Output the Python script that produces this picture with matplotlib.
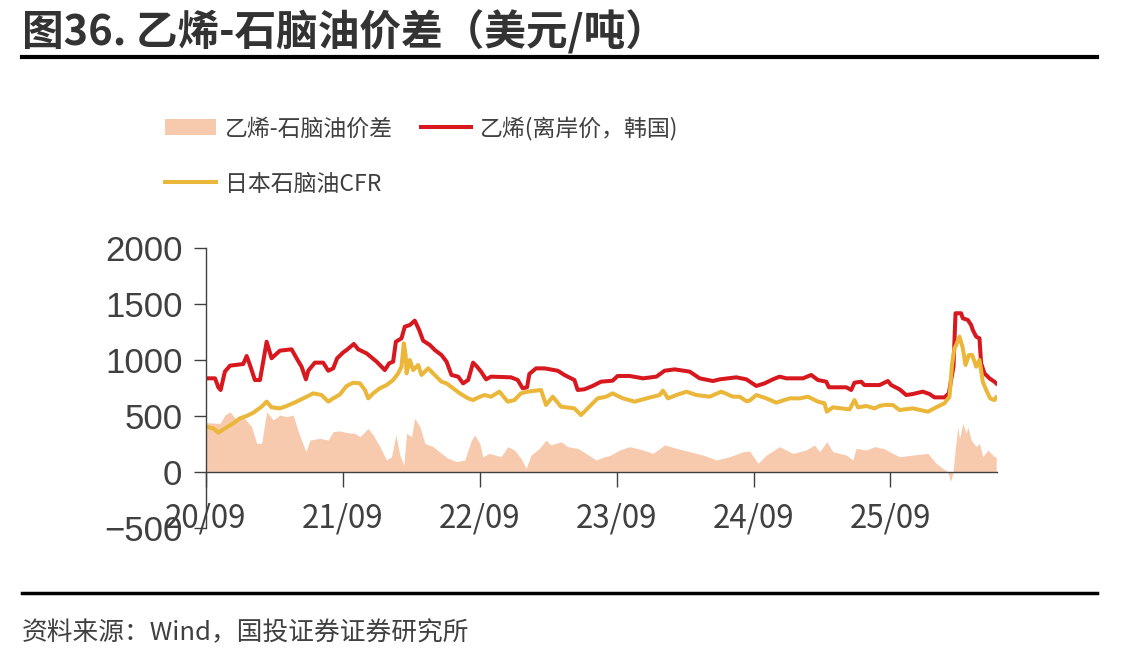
import numpy as np
import matplotlib.pyplot as plt
from matplotlib.lines import Line2D

plt.rcParams['font.family'] = ['Noto Sans CJK SC', 'DejaVu Sans']

# ------------------------------------------------------------
# Data (time in decimal years)
# ------------------------------------------------------------

ethylene_t = [
    2020.667, 2020.733, 2020.757, 2020.774, 2020.805, 2020.842, 2020.939, 2020.964, 2020.988,
    2021.024, 2021.061, 2021.085, 2021.110, 2021.146, 2021.207, 2021.292, 2021.329, 2021.365,
    2021.397, 2021.414, 2021.462, 2021.523, 2021.560, 2021.596, 2021.625, 2021.669, 2021.694,
    2021.747, 2021.779, 2021.840, 2021.913, 2021.973, 2022.005, 2022.034, 2022.054, 2022.095,
    2022.119, 2022.156, 2022.192, 2022.224, 2022.253, 2022.302, 2022.338, 2022.387, 2022.424,
    2022.460, 2022.509, 2022.545, 2022.582, 2022.618, 2022.647, 2022.676, 2022.713, 2022.749,
    2022.895, 2022.944, 2022.980, 2023.012, 2023.029, 2023.078, 2023.139, 2023.236, 2023.285,
    2023.358, 2023.382, 2023.431, 2023.491, 2023.552, 2023.637, 2023.674, 2023.762, 2023.859,
    2023.957, 2024.017, 2024.090, 2024.200, 2024.273, 2024.370, 2024.419, 2024.541, 2024.614,
    2024.687, 2024.747, 2024.808, 2024.857, 2024.906, 2025.027, 2025.088, 2025.137, 2025.198,
    2025.217, 2025.344, 2025.380, 2025.404, 2025.453, 2025.477, 2025.587, 2025.648, 2025.672,
    2025.733, 2025.782, 2025.830, 2025.903, 2025.952, 2025.988, 2026.061, 2026.093, 2026.127,
    2026.142, 2026.183, 2026.195, 2026.232, 2026.256, 2026.268, 2026.293, 2026.317, 2026.329,
    2026.353, 2026.390, 2026.426, 2026.439,
]
ethylene = [
    839, 839, 759, 735, 899, 952, 967, 1038, 958,
    824, 824, 988, 1166, 1018, 1086, 1098, 1018, 943,
    830, 907, 979, 979, 907, 928, 1018, 1070, 1092,
    1146, 1098, 1062, 988, 913, 973, 988, 1166, 1196,
    1300, 1315, 1354, 1271, 1175, 1137, 1092, 1047, 988,
    869, 854, 794, 824, 979, 943, 899, 830, 854,
    848, 824, 750, 759, 878, 928, 928, 907, 869,
    824, 735, 741, 771, 809, 818, 860, 860, 839,
    854, 907, 919, 899, 839, 815, 830, 848, 830,
    771, 794, 830, 854, 839, 839, 869, 824, 809,
    759, 759, 735, 800, 809, 779, 779, 815, 779,
    741, 690, 699, 720, 699, 669, 669, 705, 943,
    1420, 1420, 1375, 1360, 1315, 1271, 1211, 1196, 973,
    884, 839, 809, 794,
]

naphtha_t = [
    2020.667, 2020.720, 2020.757, 2020.805, 2020.866, 2020.915, 2020.964, 2021.012, 2021.073,
    2021.110, 2021.146, 2021.207, 2021.256, 2021.329, 2021.402, 2021.450, 2021.511, 2021.560,
    2021.596, 2021.645, 2021.694, 2021.742, 2021.791, 2021.828, 2021.852, 2021.888, 2021.937,
    2021.986, 2022.034, 2022.071, 2022.095, 2022.112, 2022.125, 2022.132, 2022.156, 2022.180,
    2022.217, 2022.241, 2022.290, 2022.338, 2022.387, 2022.424, 2022.472, 2022.521, 2022.582,
    2022.618, 2022.655, 2022.701, 2022.749, 2022.810, 2022.871, 2022.920, 2022.968, 2023.017,
    2023.114, 2023.151, 2023.200, 2023.260, 2023.358, 2023.406, 2023.467, 2023.528, 2023.589,
    2023.637, 2023.686, 2023.713, 2023.798, 2023.884, 2023.981, 2024.005, 2024.042, 2024.103,
    2024.176, 2024.249, 2024.346, 2024.431, 2024.516, 2024.565, 2024.614, 2024.638, 2024.687,
    2024.760, 2024.833, 2024.930, 2025.003, 2025.064, 2025.137, 2025.185, 2025.202, 2025.246,
    2025.368, 2025.404, 2025.429, 2025.490, 2025.550, 2025.587, 2025.623, 2025.684, 2025.733,
    2025.830, 2025.940, 2026.000, 2026.061, 2026.098, 2026.117, 2026.134, 2026.147, 2026.171,
    2026.195, 2026.215, 2026.239, 2026.264, 2026.293, 2026.317, 2026.341, 2026.366, 2026.395,
    2026.427, 2026.439,
]
naphtha = [
    407, 392, 354, 392, 437, 482, 503, 532, 586,
    631, 580, 571, 592, 631, 675, 705, 690, 631,
    660, 695, 771, 800, 794, 735, 660, 705, 750,
    779, 824, 884, 943, 1152, 1047, 884, 1003, 913,
    958, 869, 928, 869, 809, 794, 750, 705, 660,
    645, 668, 690, 675, 720, 631, 645, 705, 720,
    735, 601, 675, 586, 571, 511, 586, 660, 675,
    705, 675, 660, 631, 660, 690, 729, 660, 690,
    720, 690, 675, 720, 675, 675, 635, 640, 690,
    660, 622, 660, 660, 675, 631, 616, 541, 580,
    562, 645, 580, 592, 571, 592, 601, 601, 556,
    571, 541, 580, 616, 675, 970, 1107, 1137, 1211,
    1110, 958, 1047, 1047, 943, 1003, 810, 735, 660,
    645, 669,
]

spread_t = [
    2020.667, 2020.769, 2020.805, 2020.842, 2020.891, 2020.939, 2021.000, 2021.037, 2021.073,
    2021.110, 2021.158, 2021.207, 2021.256, 2021.304, 2021.341, 2021.397, 2021.426, 2021.499,
    2021.560, 2021.596, 2021.645, 2021.694, 2021.755, 2021.791, 2021.852, 2021.888, 2021.937,
    2021.986, 2022.022, 2022.054, 2022.083, 2022.112, 2022.132, 2022.168, 2022.192, 2022.229,
    2022.266, 2022.326, 2022.387, 2022.436, 2022.497, 2022.557, 2022.606, 2022.630, 2022.667,
    2022.688, 2022.737, 2022.822, 2022.871, 2022.920, 2022.968, 2023.005, 2023.041, 2023.103,
    2023.151, 2023.187, 2023.260, 2023.309, 2023.382, 2023.443, 2023.516, 2023.577, 2023.616,
    2023.689, 2023.762, 2023.859, 2023.932, 2024.017, 2024.103, 2024.200, 2024.297, 2024.395,
    2024.492, 2024.589, 2024.638, 2024.699, 2024.760, 2024.857, 2024.954, 2025.051, 2025.112,
    2025.149, 2025.202, 2025.246, 2025.344, 2025.392, 2025.416, 2025.490, 2025.550, 2025.623,
    2025.660, 2025.733, 2025.830, 2025.940, 2026.000, 2026.049, 2026.086, 2026.105, 2026.122,
    2026.142, 2026.159, 2026.171, 2026.195, 2026.220, 2026.232, 2026.256, 2026.293, 2026.317,
    2026.341, 2026.378, 2026.402, 2026.427, 2026.439,
]
spread = [
    443, 437, 511, 541, 467, 497, 407, 258, 258,
    541, 467, 511, 497, 511, 363, 184, 288, 303,
    288, 363, 370, 354, 348, 318, 392, 333, 229,
    110, 139, 333, 154, 65, 348, 318, 482, 407,
    258, 229, 169, 125, 95, 110, 288, 333, 258,
    139, 169, 139, 229, 199, 125, 35, 154, 214,
    288, 244, 273, 229, 214, 169, 110, 139, 150,
    199, 229, 199, 169, 244, 214, 184, 154, 110,
    139, 184, 190, 80, 154, 229, 169, 199, 244,
    184, 273, 184, 154, 110, 214, 199, 229, 210,
    184, 139, 154, 169, 80, 35, 6, -84, -10,
    229, 407, 300, 437, 348, 407, 288, 229, 258,
    139, 199, 169, 139, 139,
]

tick_years = [2020.667, 2021.667, 2022.667, 2023.667, 2024.667, 2025.667]
tick_labels = ['20/09', '21/09', '22/09', '23/09', '24/09', '25/09']

label_spread = '乙烯-石脑油价差'
label_ethylene = '乙烯(离岸价，韩国)'
label_naphtha = '日本石脑油CFR'

# ------------------------------------------------------------
# Figure
# ------------------------------------------------------------

W, H = 1147, 666
fig = plt.figure(figsize=(W / 100, H / 100), dpi=100)
ax = fig.add_axes([206 / W, 1 - 528.3 / H, (997 - 206) / W, (528.3 - 248.3) / H])

grey = '#404040'
c_spread = '#F7CAAE'
c_red = '#D7191F'
c_yellow = '#EBB73A'

h_spread = ax.fill_between(spread_t, 0, spread, color=c_spread, linewidth=0, label=label_spread)
h_red, = ax.plot(ethylene_t, ethylene, color=c_red, lw=2.9, label=label_ethylene)
h_yel, = ax.plot(naphtha_t, naphtha, color=c_yellow, lw=2.9, label=label_naphtha)

ax.set_xlim(2020.667, 2026.445)
ax.set_ylim(-500, 2000)
ax.set_yticks([-500, 0, 500, 1000, 1500, 2000])
ax.set_xticks(tick_years)
ax.set_xticklabels(tick_labels)

for s in ['top', 'right']:
    ax.spines[s].set_visible(False)
ax.spines['bottom'].set_position(('data', 0))
for s in ['left', 'bottom']:
    ax.spines[s].set_color(grey)
    ax.spines[s].set_linewidth(1.0)

ax.tick_params(axis='y', direction='out', length=9, width=1, color=grey, pad=8,
               labelsize=25, labelcolor=grey)
ax.tick_params(axis='x', direction='out', length=11, width=1, color=grey, pad=11,
               labelsize=22.5, labelcolor=grey)
for lab in ax.get_yticklabels():
    lab.set_family('Liberation Sans')
for lab in ax.get_xticklabels():
    lab.set_family(['Noto Sans CJK SC', 'DejaVu Sans'])

ax.legend(handles=[h_spread, h_yel, h_red], ncol=2, loc='upper left',
          bbox_to_anchor=(154 / W, 1 - 105 / H), bbox_transform=fig.transFigure,
          frameon=False, fontsize=16.5, labelcolor=grey, handlelength=2.2,
          handletextpad=0.4, columnspacing=1.2, labelspacing=1.4, borderpad=0)

# title, rules and source line
fig.text(22 / W, 1 - 32 / H, '图36. 乙烯-石脑油价差（美元/吨）', fontsize=30,
         fontweight='bold', color='#333333', va='center', ha='left')
fig.add_artist(Line2D([22 / W, 1097 / W], [1 - 57 / H] * 2, color='black', lw=3))
fig.add_artist(Line2D([22 / W, 1097 / W], [1 - 593 / H] * 2, color='black', lw=2.5))
fig.text(22 / W, 1 - 633 / H, '资料来源：Wind，国投证券证券研究所', fontsize=18.5,
         style='italic', color=grey, va='center', ha='left')

fig.savefig('out.png', dpi=100)
